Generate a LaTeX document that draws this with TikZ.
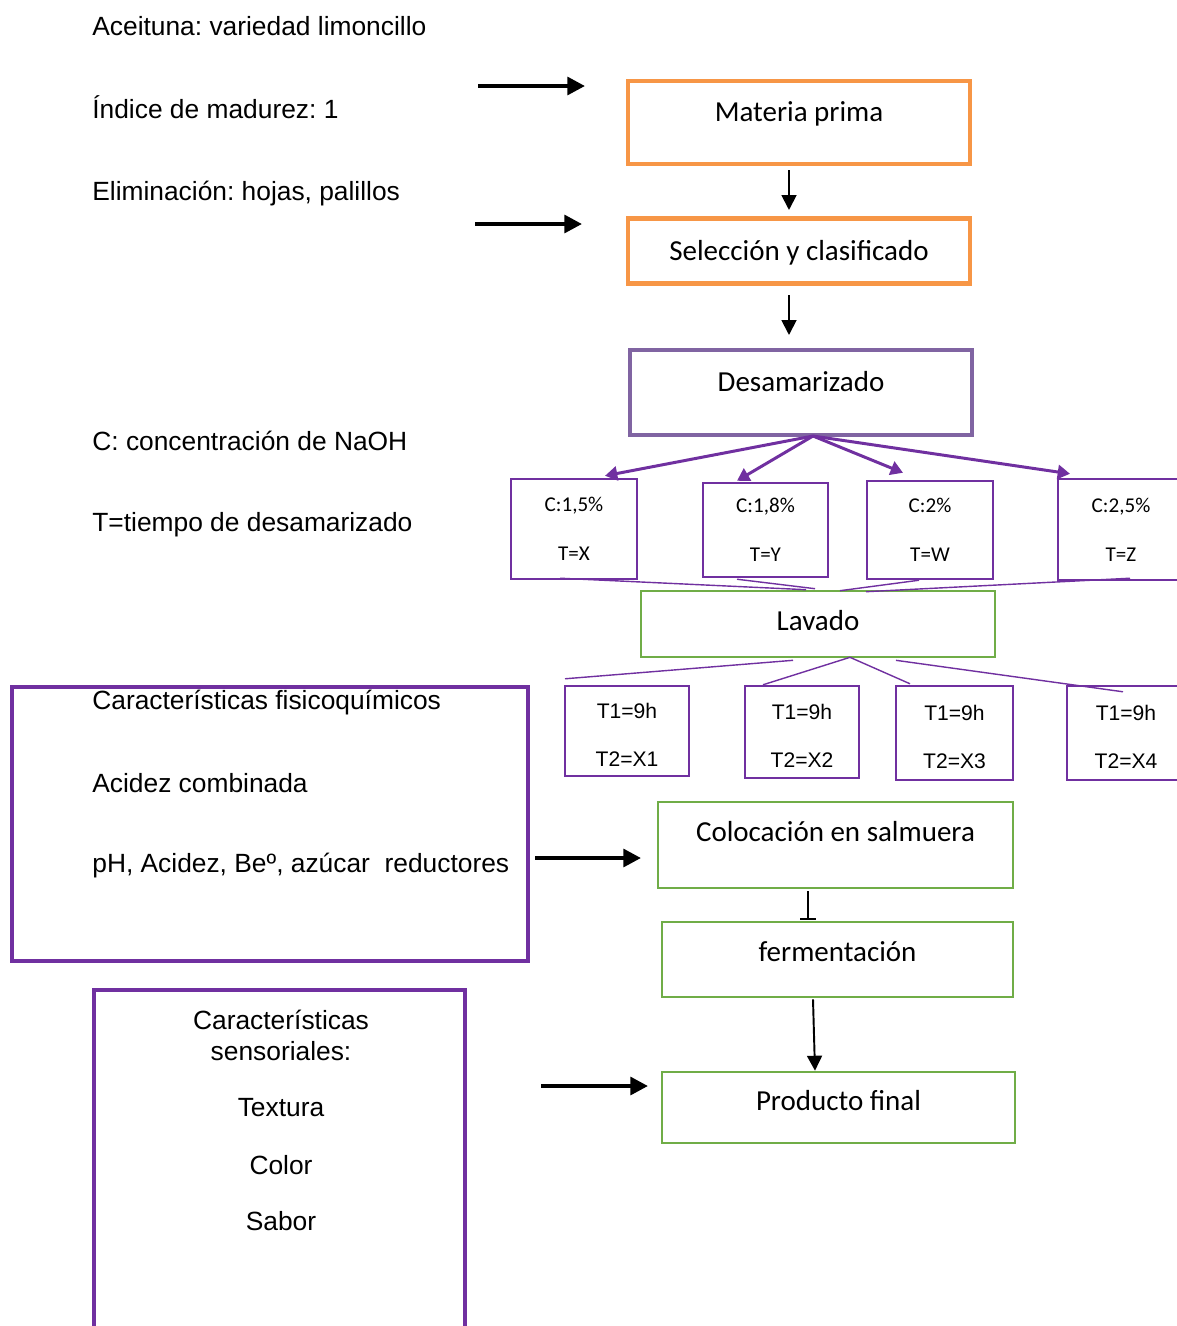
\documentclass[tikz,border=0pt]{standalone}
\usepackage{fontspec}
\setmainfont{Liberation Sans}
\newfontfamily\calib{Carlito}
\usetikzlibrary{arrows.meta}
\frenchspacing

\definecolor{naranja}{HTML}{F79646}
\definecolor{lila}{HTML}{8064A2}
\definecolor{morado}{HTML}{7030A0}
\definecolor{verde}{HTML}{70AD47}

\begin{document}
\begin{tikzpicture}[x=0.02cm, y=-0.02cm,
  nota/.style={anchor=base west, inner sep=0pt, font=\fontsize{15}{18}\selectfont},
  notac/.style={anchor=base, inner sep=0pt, font=\fontsize{15}{18}\selectfont},
  paso/.style={draw, inner sep=0pt, text height=10.6pt, font=\calib\fontsize{16.5}{20}\selectfont},
  pasonar/.style={paso, draw=naranja, line width=2.3pt},
  pasolila/.style={paso, draw=lila, line width=2.3pt},
  pasover/.style={paso, draw=verde, line width=1.5pt},
  cbox/.style={draw=morado, line width=1.4pt, inner sep=0pt, align=center, font=\calib\fontsize{12}{27.8}\selectfont},
  tbox/.style={draw=morado, line width=1.4pt, inner sep=0pt, align=center, text height=40.5pt, font=\fontsize{12}{27.2}\selectfont},
  marco/.style={draw=morado, line width=2.5pt},
  gruesa/.style={line width=2.3pt, -{Triangle[length=10pt, width=10pt]}},
  fina/.style={line width=1.1pt, -{Triangle[length=8.5pt, width=8.5pt]}},
  abanico/.style={draw=morado, line width=1.7pt, -{Triangle[length=7pt, width=8pt]}},
  hilo/.style={draw=morado, line width=0.8pt}]
\useasboundingbox (0,0) rectangle (1177,1326);

% notas de la izquierda
\node [nota] (n1) at (92,35) {Aceituna: variedad limoncillo};
\node [nota] (n2) at (92,118) {Índice de madurez: 1};
\node [nota] (n3) at (92,200) {Eliminación: hojas, palillos};
\node [nota] (n4) at (92,450) {C: concentración de NaOH};
\node [nota] (n5) at (92,531) {T=tiempo de desamarizado};

% recuadros de caracteristicas
\node [marco, minimum width=10.32cm, minimum height=5.48cm] (fis) at (270,824) {};
\node [nota] (fis1) at (92,709) {Características fisicoquímicos};
\node [nota] (fis2) at (92,792) {Acidez combinada};
\node [nota] (fis3) at (92,872) {pH, Acidez, Beº, azúcar~ reductores};
\node [marco, minimum width=7.42cm, minimum height=7.4cm] (sen) at (279.5,1175) {};
\node [notac] (sen1) at (281,1029) {Características};
\node [notac] (sen2) at (281,1060) {sensoriales:};
\node [notac] (sen3) at (281,1116) {Textura};
\node [notac] (sen4) at (281,1174) {Color};
\node [notac] (sen5) at (281,1230) {Sabor};

% pasos del proceso
\node [pasonar, minimum width=6.84cm, minimum height=1.66cm, text depth=11.3pt] (mp) at (799,122.5) {Materia prima};
\node [pasonar, minimum width=6.84cm, minimum height=1.30cm, text depth=0pt] (sel) at (799,251) {Selección y clasificado};
\node [pasolila, minimum width=6.84cm, minimum height=1.70cm, text depth=11.3pt] (des) at (801,392.5) {Desamarizado};
\node [cbox, minimum width=2.52cm, minimum height=2.00cm] (c1) at (574,529) {C:1,5\%\\T=X};
\node [cbox, minimum width=2.50cm, minimum height=1.88cm] (c2) at (765.5,530) {C:1,8\%\\T=Y};
\node [cbox, minimum width=2.52cm, minimum height=1.96cm] (c3) at (930,530) {C:2\%\\T=W};
\node [cbox, minimum width=2.52cm, minimum height=2.02cm] (c4) at (1121,529.5) {C:2,5\%\\T=Z};
\node [pasover, minimum width=7.08cm, minimum height=1.32cm, text depth=3.4pt] (lav) at (818,624) {Lavado};
\node [tbox, minimum width=2.48cm, minimum height=1.80cm] (t1) at (627,731) {T1=9h\\T2=X1};
\node [tbox, minimum width=2.28cm, minimum height=1.84cm] (t2) at (802,732) {T1=9h\\T2=X2};
\node [tbox, minimum width=2.34cm, minimum height=1.88cm] (t3) at (954.5,733) {T1=9h\\T2=X3};
\node [tbox, minimum width=2.36cm, minimum height=1.88cm] (t4) at (1126,733) {T1=9h\\T2=X4};
\node [pasover, minimum width=7.10cm, minimum height=1.72cm, text depth=14.2pt] (sal) at (835.5,845) {Colocación en salmuera};
\node [pasover, minimum width=7.02cm, minimum height=1.50cm, text depth=7.9pt] (fer) at (837.5,959.5) {fermentación};
\node [pasover, minimum width=7.06cm, minimum height=1.42cm, text depth=7.4pt] (prod) at (838.5,1107.5) {Producto final};

% flechas gruesas de entrada
\coordinate (e1) at (478,86);
\coordinate (f1) at (585,86);
\coordinate (e2) at (475,224);
\coordinate (f2) at (582,224);
\coordinate (e3) at (535,858);
\coordinate (f3) at (641,858);
\coordinate (e4) at (541,1086);
\coordinate (f4) at (648,1086);
\draw [gruesa] (e1) -- (f1);
\draw [gruesa] (e2) -- (f2);
\draw [gruesa] (e3) -- (f3);
\draw [gruesa] (e4) -- (f4);

% flujo principal
\draw [fina] ([shift={(-10,4)}]mp.south) -- ([shift={(-10,-6.5)}]sel.north);
\draw [fina] ([shift={(-10,9.5)}]sel.south) -- ([shift={(-12,-13)}]des.north);
\draw [line width=1.1pt, -{Bar[width=9pt, line width=1.1pt]}] ([shift={(-27.5,2)}]sal.south) -- ([shift={(-29.5,-1)}]fer.north);
\draw [fina] ([shift={(-24.5,1)}]fer.south) -- ([shift={(-23.5,0)}]prod.north);

% concentraciones
\coordinate (dsal) at ([shift={(12,-1)}]des.south);
\draw [abanico] (dsal) -- ([shift={(31,-2)}]c1.north);
\draw [abanico] (dsal) -- ([shift={(-28.5,-1)}]c2.north);
\draw [abanico] (dsal) -- ([shift={(-27,-7)}]c3.north);
\draw [abanico] (dsal) -- ([shift={(-51,-4)}]c4.north);
\draw [hilo] ([shift={(-14,-2)}]c1.south) -- ([shift={(-12,0)}]lav.north);
\draw [hilo] ([shift={(-28.5,1)}]c2.south) -- ([shift={(-3,-1)}]lav.north);
\draw [hilo] ([shift={(-11,0)}]c3.south) -- ([shift={(22,1)}]lav.north);
\draw [hilo] ([shift={(9,-3)}]c4.south) -- ([shift={(48,2)}]lav.north);

% tiempos de lavado
\draw [hilo] ([shift={(-25,2)}]lav.south) -- ([shift={(-62,-6)}]t1.north);
\draw [hilo] ([shift={(32,-1)}]lav.south) -- ([shift={(-39,0)}]t2.north);
\draw [hilo] ([shift={(32,-1)}]lav.south) -- ([shift={(-44.5,-1)}]t3.north);
\draw [hilo] ([shift={(78,2)}]lav.south) -- ([shift={(-3,7)}]t4.north);
\end{tikzpicture}
\end{document}
